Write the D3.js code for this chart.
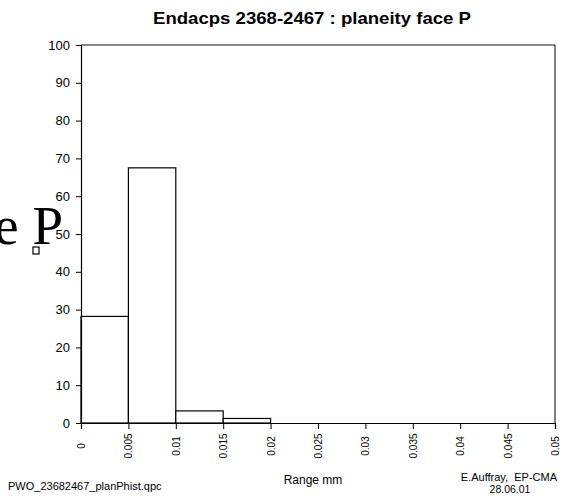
<!DOCTYPE html>
<html>
<head>
<meta charset="utf-8">
<script src="https://cdn.jsdelivr.net/npm/d3@7"></script>
<style>
  body { margin: 0; background: #fff; }
  svg text { font-family: "Liberation Sans", Arial, sans-serif; fill: #000; }
</style>
</head>
<body>
<div id="chart"></div>
<script>
// histogram bins (mm) and percentage of pieces in each bin
var binStarts = [0, 0.005, 0.01, 0.015];
var binWidth = 0.005;
var percents = [28.2, 67.5, 3.2, 1.2];
var xTicks = ["0", "0.005", "0.01", "0.015", "0.02", "0.025", "0.03", "0.035", "0.04", "0.045", "0.05"];
var yTicks = [0, 10, 20, 30, 40, 50, 60, 70, 80, 90, 100];

var width = 563, height = 497;
var margin = {top: 45, right: 8, bottom: 74, left: 81};

var svg = d3.select("#chart").append("svg")
    .attr("width", width)
    .attr("height", height);

var x = d3.scaleLinear().domain([0, 0.05]).range([margin.left, width - margin.right]);
var y = d3.scaleLinear().domain([0, 100]).range([height - margin.bottom, margin.top]);

// stray big text left over on the page
svg.append("text")
    .attr("x", 63)
    .attr("y", 244)
    .attr("text-anchor", "end")
    .style("font-family", "'Liberation Serif', 'Times New Roman', serif")
    .style("font-size", "55px")
    .text("e P");

svg.append("rect")
    .attr("x", 33).attr("y", 247)
    .attr("width", 6).attr("height", 7)
    .attr("fill", "none").attr("stroke", "#000").attr("stroke-width", 1.2);

// frame: top grey, right black
svg.append("line")
    .attr("x1", x(0)).attr("x2", x(0.05))
    .attr("y1", y(100)).attr("y2", y(100))
    .attr("stroke", "#888").attr("stroke-width", 2);
svg.append("line")
    .attr("x1", x(0.05)).attr("x2", x(0.05))
    .attr("y1", y(100)).attr("y2", y(0))
    .attr("stroke", "#000").attr("stroke-width", 1);

// bars
svg.selectAll(".bar")
    .data(binStarts)
    .enter()
    .append("rect")
    .attr("class", "bar")
    .attr("x", function(d) { return x(d); })
    .attr("width", function(d) { return x(d + binWidth) - x(d); })
    .attr("y", function(d, i) { return y(percents[i]); })
    .attr("height", function(d, i) { return y(0) - y(percents[i]); })
    .attr("fill", "#fff")
    .attr("stroke", "#000")
    .attr("stroke-width", 1.2);

// y axis
var yAxis = svg.append("g")
    .attr("transform", "translate(" + x(0) + ",0)")
    .call(d3.axisLeft(y).tickValues(yTicks).tickSize(5).tickPadding(6).tickFormat(d3.format("d")));
yAxis.selectAll("text").style("font-size", "13px");
yAxis.select(".domain").attr("stroke-width", 1.2);

// x axis
var xAxis = svg.append("g")
    .attr("transform", "translate(0," + y(0) + ")")
    .call(d3.axisBottom(x).tickValues(xTicks.map(Number)).tickSize(6)
        .tickFormat(function(d, i) { return xTicks[i]; }));
xAxis.select(".domain").attr("stroke-width", 1.2);
xAxis.selectAll("text")
    .style("font-size", "10px")
    .attr("text-anchor", "middle")
    .attr("transform", "translate(0,23) rotate(-90)")
    .attr("x", 0).attr("y", 0).attr("dy", "0.35em");

// titles and footer
svg.append("text")
    .attr("x", 312).attr("y", 24)
    .attr("text-anchor", "middle")
    .attr("textLength", 318)
    .attr("lengthAdjust", "spacingAndGlyphs")
    .style("font-size", "17px").style("font-weight", "bold")
    .text("Endacps 2368-2467 : planeity face P");

svg.append("text")
    .attr("x", 313).attr("y", 484)
    .attr("text-anchor", "middle")
    .style("font-size", "12px")
    .text("Range mm");

svg.append("text")
    .attr("x", 8).attr("y", 490)
    .style("font-size", "11px")
    .text("PWO_23682467_planPhist.qpc");

svg.append("text")
    .attr("x", 557).attr("y", 481)
    .attr("text-anchor", "end")
    .style("font-size", "11px")
    .style("white-space", "pre")
    .text("E.Auffray,  EP-CMA");
svg.append("text")
    .attr("x", 510).attr("y", 493)
    .attr("text-anchor", "middle")
    .style("font-size", "10.5px")
    .text("28.06.01");
</script>
</body>
</html>
